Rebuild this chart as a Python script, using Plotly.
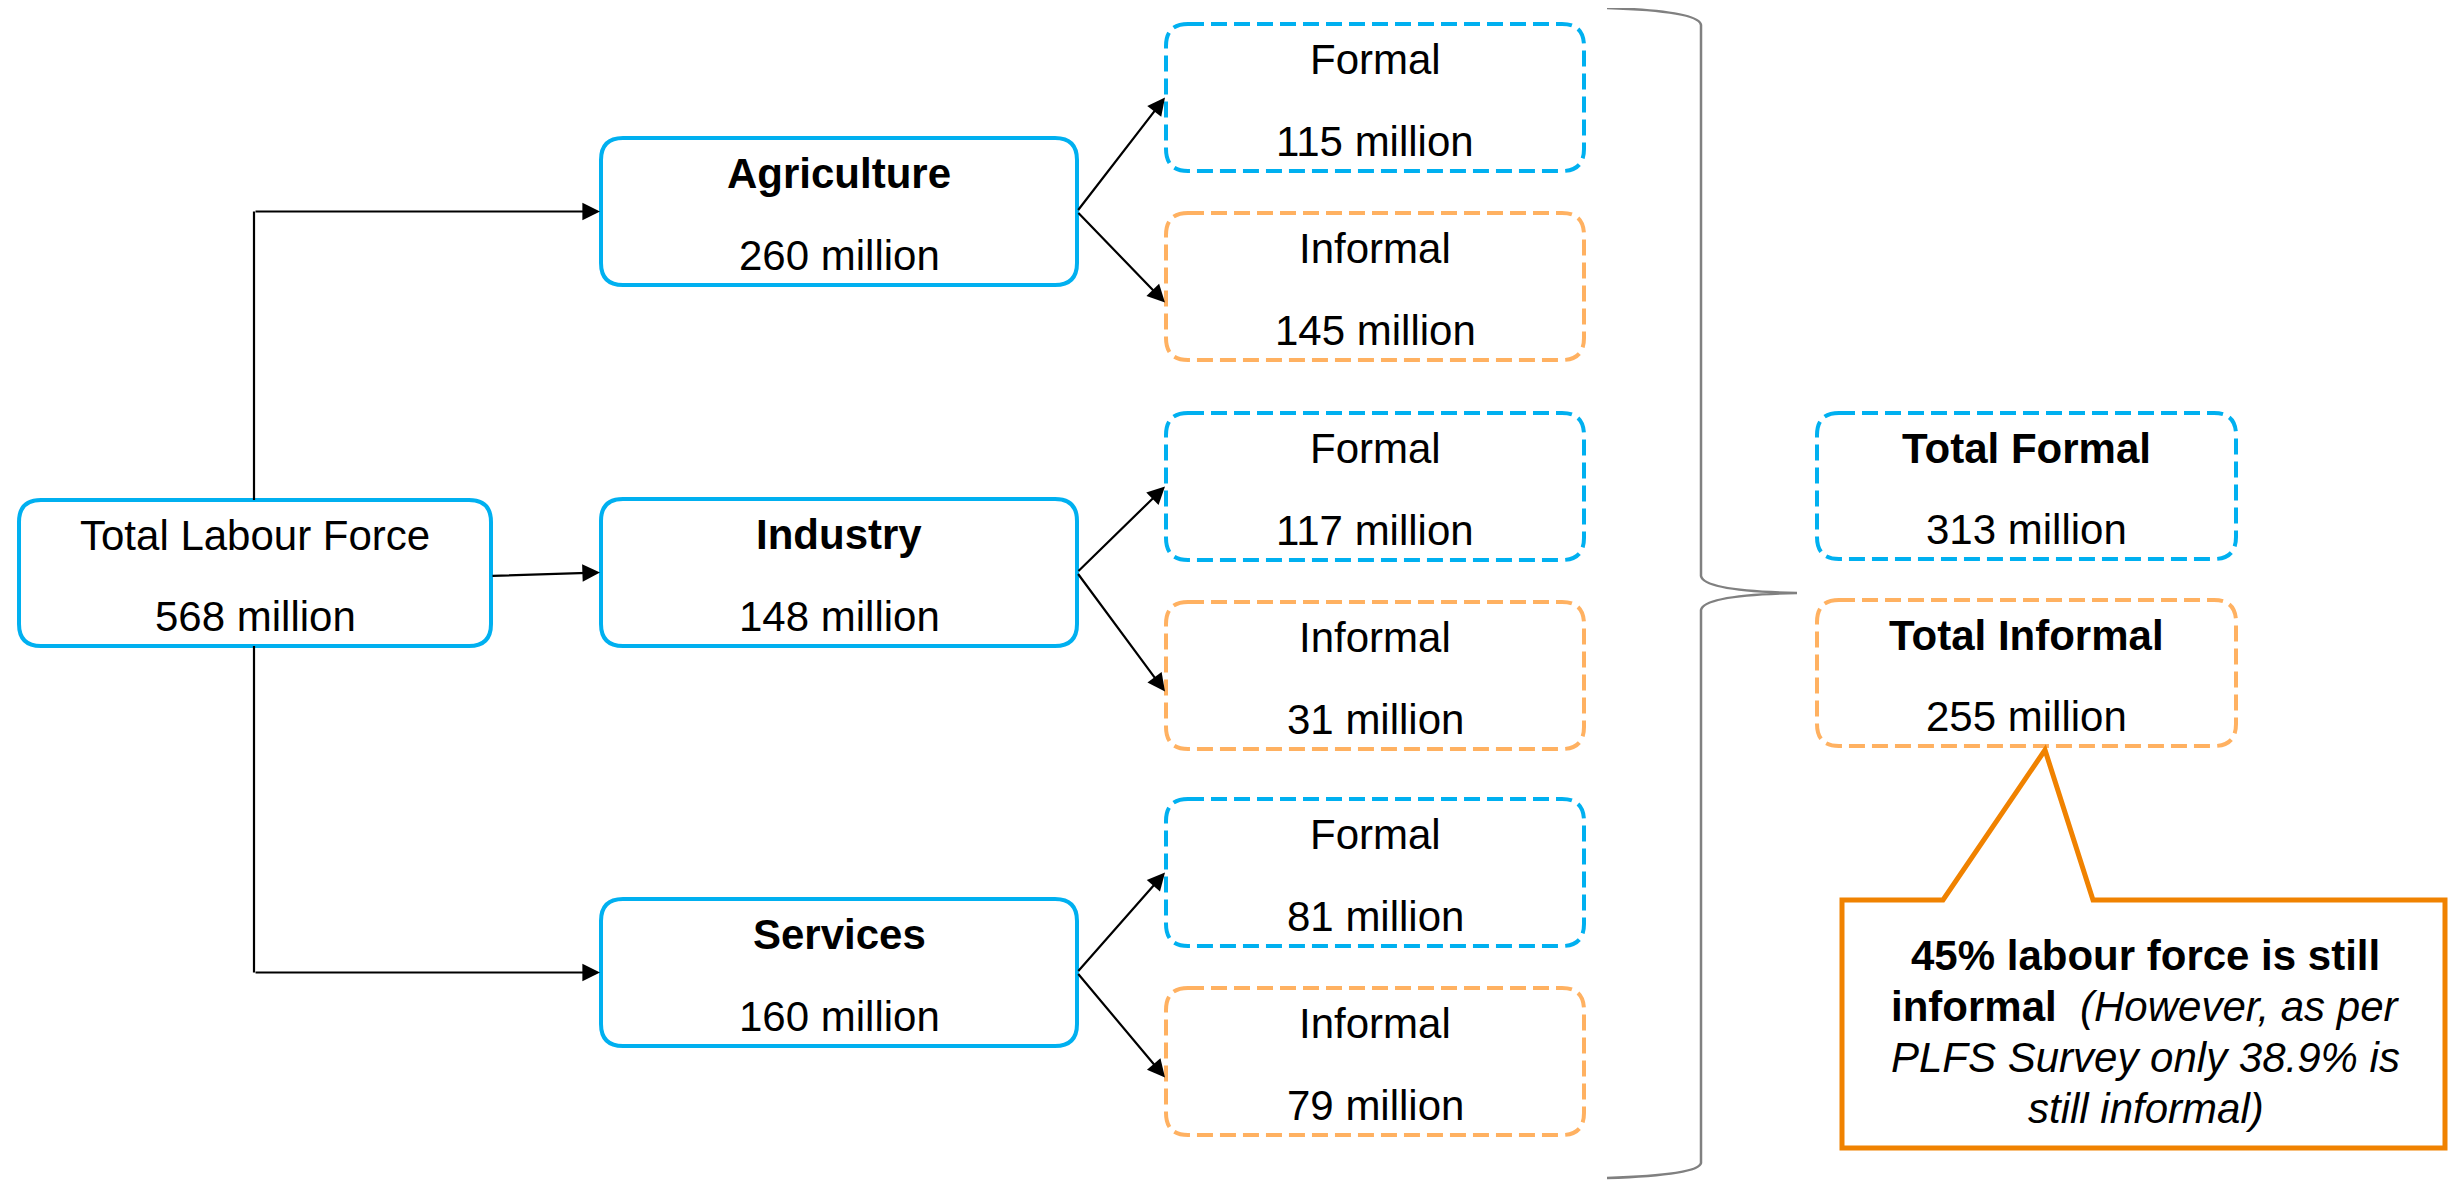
import plotly.graph_objects as go

# ---------------- data ----------------
total_label = "Total Labour Force"
total_value = 568
sectors = ["Agriculture", "Industry", "Services"]
sector_values = [260, 148, 160]
formal_values = [115, 117, 81]
informal_values = [145, 31, 79]
total_formal = 313
total_informal = 255
unit = "million"
callout_lines = [
    "<b>45% labour force is still</b>",
    "<b>informal</b>  <i>(However, as per</i>",
    "<i>PLFS Survey only 38.9% is</i>",
    "<i>still informal)</i>",
]

# ---------------- style ----------------
W, H = 2460, 1180
OFF = 8  # page body margin compensation
BLUE = "#00B0F0"
LORANGE = "#FFB161"
ORANGE = "#F08200"
GREY = "#808080"
FONT = "Liberation Sans, Arial, sans-serif"
FS = 42
DASH = "16px,7px"

shapes = []
annotations = []


def rrect(x0, y0, x1, y1, r=22):
    return (f"M {x0+r},{y0} L {x1-r},{y0} Q {x1},{y0} {x1},{y0+r} "
            f"L {x1},{y1-r} Q {x1},{y1} {x1-r},{y1} L {x0+r},{y1} "
            f"Q {x0},{y1} {x0},{y1-r} L {x0},{y0+r} Q {x0},{y0} {x0+r},{y0} Z")


def box(x0, y0, x1, y1, color, dash, title, value, bold=False):
    shapes.append(dict(type="path", path=rrect(x0, y0, x1, y1),
                       line=dict(color=color, width=4, dash=dash),
                       fillcolor="white", layer="above"))
    t = f"<b>{title}</b>" if bold else title
    cx = (x0 + x1) / 2
    annotations.append(dict(x=cx, y=y0 + 35, text=t, showarrow=False,
                            xanchor="center", yanchor="middle",
                            font=dict(family=FONT, size=FS, color="black")))
    annotations.append(dict(x=cx, y=y1 - 30, text=f"{value} {unit}", showarrow=False,
                            xanchor="center", yanchor="middle",
                            font=dict(family=FONT, size=FS, color="black")))


def arrow(x0, y0, x1, y1):
    annotations.append(dict(x=x1, y=y1, ax=x0, ay=y0, xref="x", yref="y",
                            axref="x", ayref="y", text="", showarrow=True,
                            arrowhead=2, arrowsize=1.6, arrowwidth=2.2,
                            arrowcolor="black", standoff=0))


def seg(x0, y0, x1, y1):
    shapes.append(dict(type="line", x0=x0, y0=y0, x1=x1, y1=y1,
                       line=dict(color="black", width=2.2)))


# geometry
BH = 147
tlf = (19, 500, 491, 646)
sec_x = (601, 1077)
sec_tops = [138, 499, 899]
sub_x = (1166, 1584)
sub_tops = [(24, 213), (413, 602), (799, 988)]
tot_x = (1817, 2236)
tot_tops = (413, 600)

# Total labour force
box(*tlf, BLUE, "solid", total_label, total_value)
tlf_cx = 254
tlf_cy = (tlf[1] + tlf[3]) / 2

for i, (name, v) in enumerate(zip(sectors, sector_values)):
    y0 = sec_tops[i]
    cy = y0 + BH / 2
    box(sec_x[0], y0, sec_x[1], y0 + BH, BLUE, "solid", name, v, bold=True)
    # arrows from total
    if i == 0:
        seg(tlf_cx, tlf[1], tlf_cx, cy)
        arrow(tlf_cx, cy, sec_x[0] - 1, cy)
    elif i == 1:
        arrow(tlf[2], tlf_cy + 3, sec_x[0] - 1, cy)
    else:
        seg(tlf_cx, tlf[3], tlf_cx, cy)
        arrow(tlf_cx, cy, sec_x[0] - 1, cy)
    # formal / informal
    fy, iy = sub_tops[i]
    box(sub_x[0], fy, sub_x[1], fy + BH, BLUE, DASH, "Formal", formal_values[i])
    box(sub_x[0], iy, sub_x[1], iy + BH, LORANGE, DASH, "Informal", informal_values[i])
    arrow(sec_x[1], cy, sub_x[0] - 1, fy + BH / 2)
    arrow(sec_x[1], cy, sub_x[0] - 1, iy + BH / 2 + 16)

# brace
bx, tipx, tipy = 1701, 1797, 593
brace = (f"M 1607,8 Q 1699,11 {bx},25 L {bx},576 Q {bx+3},591 {tipx},{tipy} "
         f"Q {bx+3},595 {bx},610 L {bx},1163 Q 1699,1175 1607,1178")
shapes.append(dict(type="path", path=brace, line=dict(color=GREY, width=2.5)))

# totals
box(tot_x[0], tot_tops[0], tot_x[1], tot_tops[0] + 146, BLUE, DASH, "Total Formal", total_formal, bold=True)
box(tot_x[0], tot_tops[1], tot_x[1], tot_tops[1] + 146, LORANGE, DASH, "Total Informal", total_informal, bold=True)

# callout
cx0, cy0, cx1, cy1 = 1842, 900, 2445, 1148
call = (f"M {cx0},{cy0} L 1943,{cy0} L 2045,750 L 2093,{cy0} L {cx1},{cy0} "
        f"L {cx1},{cy1} L {cx0},{cy1} Z")
shapes.append(dict(type="path", path=call, line=dict(color=ORANGE, width=5),
                   fillcolor="white", layer="above"))
ccx = (cx0 + cx1) / 2
for k, line in enumerate(callout_lines):
    annotations.append(dict(x=ccx + 2, y=955 + k * 51, text=line, showarrow=False,
                            xanchor="center", yanchor="middle",
                            font=dict(family=FONT, size=FS, color="black")))

fig = go.Figure()
fig.update_layout(
    width=W, height=H,
    margin=dict(l=0, r=0, t=0, b=0),
    paper_bgcolor="white", plot_bgcolor="white",
    xaxis=dict(range=[OFF, W + OFF], visible=False, fixedrange=True),
    yaxis=dict(range=[H + OFF, OFF], visible=False, fixedrange=True),
    shapes=shapes, annotations=annotations,
    showlegend=False,
)
fig.write_html("out.html")
